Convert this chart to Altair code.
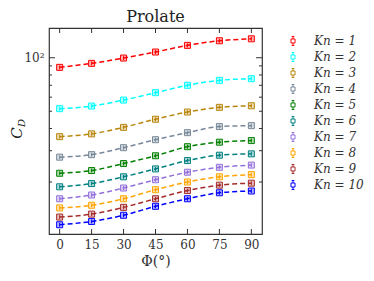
import altair as alt
import pandas as pd

phi = [0, 15, 30, 45, 60, 75, 90]
kn_values = [1, 2, 3, 4, 5, 6, 7, 8, 9, 10]
cd = {
    1: [88.3, 93.0, 99.6, 107.7, 117.4, 124.6, 127.8],
    2: [51.7, 53.5, 57.8, 63.6, 70.0, 74.6, 76.2],
    3: [36.0, 37.3, 40.6, 45.1, 49.5, 52.6, 53.7],
    4: [27.6, 28.5, 31.2, 34.6, 37.9, 41.0, 41.5],
    5: [22.4, 23.2, 25.4, 28.1, 31.6, 33.5, 34.2],
    6: [18.8, 19.6, 21.4, 23.7, 26.4, 28.3, 28.8],
    7: [16.1, 16.9, 18.5, 20.6, 22.7, 24.2, 24.9],
    8: [14.3, 14.8, 16.1, 18.1, 20.0, 21.4, 22.0],
    9: [12.7, 13.2, 14.4, 16.1, 17.9, 19.2, 19.7],
    10: [11.5, 12.0, 13.0, 14.6, 16.1, 17.4, 17.8],
}
colors = ["#ff0000", "#00ffff", "#b8860b", "#778899", "#008000",
          "#008080", "#9370db", "#ffa500", "#a52a2a", "#0000ff"]
err_frac = 0.025
y_minor = [20, 30, 40, 50, 60, 70, 80, 90]
y_major = [100]

rows = []
for k in kn_values:
    for p, v in zip(phi, cd[k]):
        rows.append({"phi": p, "cd": v, "lo": v * (1 - err_frac), "hi": v * (1 + err_frac),
                     "Kn": f"Kn = {k}"})
df = pd.DataFrame(rows)
labels = [f"Kn = {k}" for k in kn_values]

W, H = 213, 206
SERIF = "DejaVu Serif"

xs = alt.Scale(domain=[-5, 95], nice=False)
ys = alt.Scale(type="log", domain=[10.2, 147], nice=False)
cs = alt.Scale(domain=labels, range=colors)

x_axis = alt.Axis(values=phi, ticks=False, domain=False, grid=False, title="Φ(°)",
                  labelOverlap=False, labelFlush=False,
                  labelFont=SERIF, labelFontSize=12, labelColor="#333", labelPadding=5,
                  titleFont=SERIF, titleFontSize=14, titleFontWeight="normal",
                  titleColor="#333", titlePadding=4)
y_axis = alt.Axis(values=y_major, ticks=False, domain=False, grid=False, title=None,
                  labelExpr="'10²'", labelFont=SERIF, labelFontSize=12,
                  labelColor="#333", labelPadding=5)


def XF(f):
    return alt.X(f"{f}:Q", scale=xs, axis=x_axis)


def YF(f):
    return alt.Y(f"{f}:Q", scale=ys, axis=y_axis)


base = alt.Chart(df)

lines = base.mark_line(interpolate="monotone", strokeDash=[5, 3], strokeWidth=1.5).encode(
    x=XF("phi"), y=YF("cd"), stroke=alt.Stroke("Kn:N", scale=cs, legend=None), detail="Kn:N")

bars = base.mark_rule(strokeWidth=1).encode(
    x=XF("phi"), y=YF("lo"), y2="hi:Q",
    stroke=alt.Stroke("Kn:N", scale=cs, legend=None))

fills = base.mark_square(size=36, opacity=0.3).encode(
    x=XF("phi"), y=YF("cd"), fill=alt.Fill("Kn:N", scale=cs, legend=None))

pts = base.mark_point(shape="square", filled=False, size=36, strokeWidth=1, opacity=1).encode(
    x=XF("phi"), y=YF("cd"),
    color=alt.Color("Kn:N", scale=cs,
                    legend=alt.Legend(title=None, orient="none", legendX=238, legendY=7,
                                      labelFont=SERIF, labelFontStyle="italic",
                                      labelFontSize=12, labelColor="#333",
                                      symbolType="M-0.45,-0.45H0.45V0.45H-0.45Z M0,-0.45V-1 M0,0.45V1 M-0.3,-1H0.3 M-0.3,1H0.3",
                                      symbolSize=80, symbolStrokeWidth=1, rowPadding=2,
                                      labelOffset=15)))

ytick_df = pd.DataFrame({"v": y_minor + y_major, "major": [0] * len(y_minor) + [1]})
xtick_df = pd.DataFrame({"p": phi})

ytb = alt.Chart(ytick_df)
ticks_l_minor = ytb.transform_filter("datum.major == 0").mark_rule(color="#333").encode(
    y=YF("v"), x=alt.value(0), x2=alt.value(3))
ticks_r_minor = ytb.transform_filter("datum.major == 0").mark_rule(color="#333").encode(
    y=YF("v"), x=alt.value(W - 3), x2=alt.value(W))
ticks_l_major = ytb.transform_filter("datum.major == 1").mark_rule(color="#333").encode(
    y=YF("v"), x=alt.value(0), x2=alt.value(6))
ticks_r_major = ytb.transform_filter("datum.major == 1").mark_rule(color="#333").encode(
    y=YF("v"), x=alt.value(W - 6), x2=alt.value(W))
xtb = alt.Chart(xtick_df)
ticks_b = xtb.mark_rule(color="#333").encode(x=XF("p"), y=alt.value(H), y2=alt.value(H - 5))
ticks_t = xtb.mark_rule(color="#333").encode(x=XF("p"), y=alt.value(0), y2=alt.value(5))

c_txt = alt.Chart(pd.DataFrame({"t": ["C"]})).mark_text(
    font=SERIF, fontSize=15, fontStyle="italic", angle=270, color="#222").encode(
    text="t:N", x=alt.value(-32), y=alt.value(105))
d_txt = alt.Chart(pd.DataFrame({"t": ["D"]})).mark_text(
    font=SERIF, fontSize=10, fontStyle="italic", angle=270, color="#222").encode(
    text="t:N", x=alt.value(-27), y=alt.value(95))

chart = alt.layer(
    lines, bars, fills, pts,
    ticks_l_minor, ticks_r_minor, ticks_l_major, ticks_r_major, ticks_b, ticks_t,
    c_txt, d_txt,
).properties(
    width=W, height=H,
    title=alt.TitleParams("Prolate", font=SERIF, fontSize=16, fontWeight="normal",
                          color="#222", offset=3),
    autosize=alt.AutoSizeParams(type="none"),
    padding={"left": 41, "top": 20, "right": 104, "bottom": 39},
).configure_view(stroke="#333", strokeWidth=1.2).resolve_scale(
    color="independent", fill="independent", stroke="shared")

chart.save("out.html", embed_options={"renderer": "svg", "actions": False})
